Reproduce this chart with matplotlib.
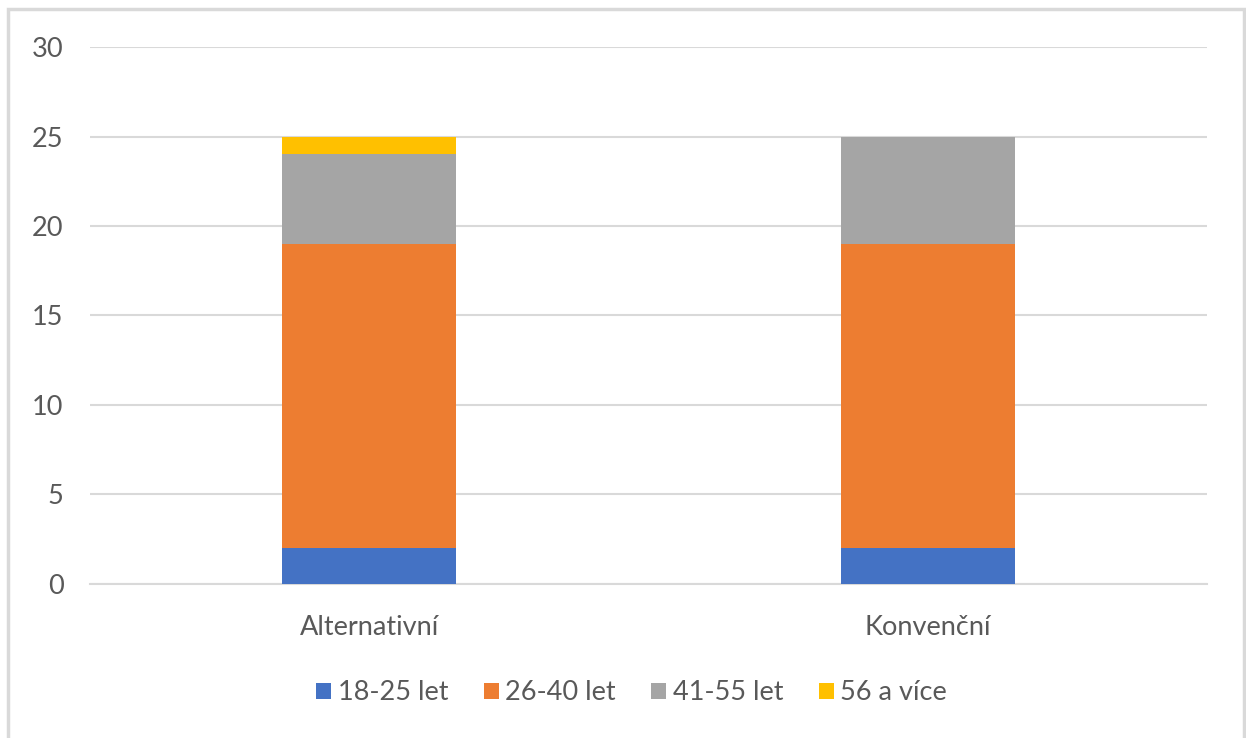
import matplotlib.pyplot as plt
from matplotlib.patches import Rectangle
import numpy as np

plt.rcParams['font.family'] = ['Lato', 'DejaVu Sans']

categories = ['Alternativní', 'Konvenční']
groups = ['18-25 let', '26-40 let', '41-55 let', '56 a více']
values = {
    '18-25 let': [2, 2],
    '26-40 let': [17, 17],
    '41-55 let': [5, 6],
    '56 a více': [1, 0],
}
colors = ['#4472c4', '#ed7d31', '#a5a5a5', '#ffc000']
text_color = '#595959'
fs = 19.5

fig = plt.figure(figsize=(12.46, 7.38), dpi=100)
ax = fig.add_axes([0.0722, 0.2087, 0.8965, 0.7276])

# outer chart frame
fig.patches.append(Rectangle((8 / 1246, -0.01), (1244 - 8) / 1246, 1 - 9 / 738 + 0.01,
                             transform=fig.transFigure, fill=False,
                             edgecolor='#d9d9d9', linewidth=2.5))

x = np.arange(len(categories))
bottom = np.zeros(len(categories))
for g, c in zip(groups, colors):
    v = np.array(values[g], dtype=float)
    ax.bar(x, v, width=0.312, bottom=bottom, color=c, label=g, zorder=3)
    bottom += v

ax.set_xlim(-0.5, 1.5)
ax.set_ylim(0, 30)
ax.set_yticks(range(0, 31, 5))
ax.set_xticks(x)
ax.set_xticklabels(categories)
ax.yaxis.grid(True, color='#d9d9d9', linewidth=1.5, zorder=0)
for s in ['top', 'right', 'left']:
    ax.spines[s].set_visible(False)
ax.spines['bottom'].set_color('#d9d9d9')
ax.spines['bottom'].set_linewidth(1.5)
ax.tick_params(axis='both', length=0, labelsize=fs, colors=text_color)
ax.tick_params(axis='y', pad=19)
ax.tick_params(axis='x', pad=22)

leg = fig.legend(loc='center', bbox_to_anchor=(0.507, 1 - 693 / 738), ncol=4,
                 frameon=False, fontsize=fs, handlelength=0.55, handleheight=0.55,
                 handletextpad=0.25, columnspacing=1.3)
for t in leg.get_texts():
    t.set_color(text_color)

fig.savefig('out.png', dpi=100)
